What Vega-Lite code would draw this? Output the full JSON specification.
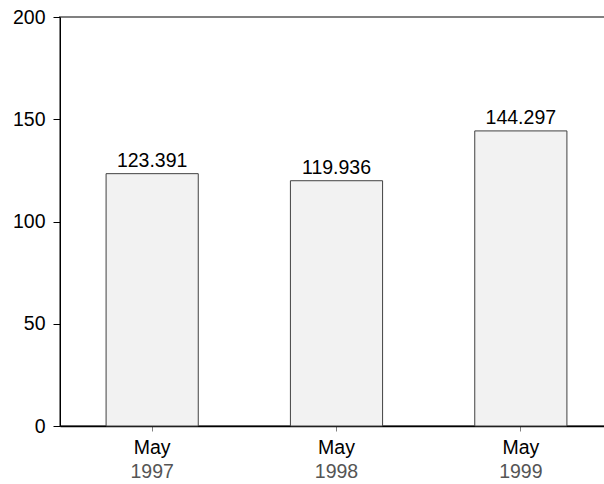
{
  "$schema": "https://vega.github.io/schema/vega-lite/v6.json",
  "autosize": "none",
  "width": 553,
  "height": 409,
  "padding": {"left": 60, "top": 17, "right": 0, "bottom": 58},
  "background": "white",
  "config": {
    "view": {"stroke": "#808080", "strokeWidth": 2},
    "font": "Liberation Sans",
    "axis": {"grid": false, "labelFont": "Liberation Sans", "labelFontSize": 19.5, "title": null}
  },
  "data": {"values": [
    {"year": "1997", "month": "May", "value": 123.391},
    {"year": "1998", "month": "May", "value": 119.936},
    {"year": "1999", "month": "May", "value": 144.297}
  ]},
  "layer": [
    {
      "mark": {"type": "bar", "fill": "#f2f2f2", "stroke": "#404040", "strokeWidth": 1},
      "encoding": {
        "x": {"field": "year", "type": "ordinal",
          "scale": {"paddingInner": 0.5, "paddingOuter": 0.25},
          "axis": {"labelExpr": "'May'", "labelAngle": 0, "labelColor": "black", "labelBaseline": "alphabetic", "tickColor": "#808080", "tickSize": 5, "domainColor": "black", "domainWidth": 1.5, "labelPadding": 22}},
        "y": {"field": "value", "type": "quantitative",
          "scale": {"domain": [0, 200], "nice": false},
          "axis": {"values": [0, 50, 100, 150, 200], "labelColor": "black", "tickColor": "black", "tickSize": 7, "domainColor": "black", "labelPadding": 8}}
      }
    },
    {
      "mark": {"type": "text", "fontSize": 19.5, "color": "black", "baseline": "alphabetic", "dy": -7, "font": "Liberation Sans"},
      "encoding": {
        "x": {"field": "year", "type": "ordinal",
          "axis": {"orient": "bottom", "labelAngle": 0, "labelColor": "#555555", "labelBaseline": "alphabetic", "ticks": false, "domain": false, "labelPadding": 51}},
        "y": {"field": "value", "type": "quantitative"},
        "text": {"field": "value", "type": "quantitative", "format": ".3f"}
      }
    }
  ],
  "resolve": {"axis": {"x": "independent"}}
}
